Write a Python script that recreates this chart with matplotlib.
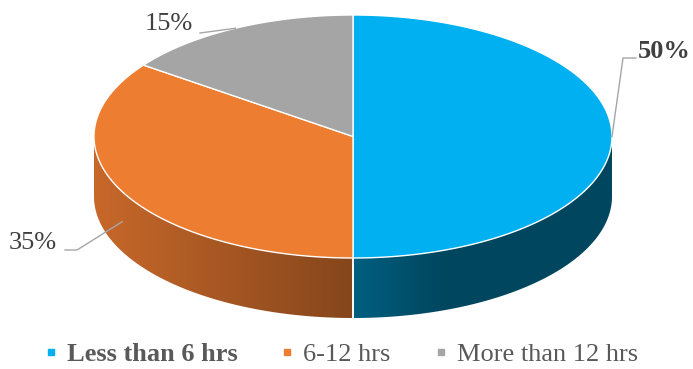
import numpy as np
import matplotlib.pyplot as plt
from matplotlib.patches import Polygon
from matplotlib.lines import Line2D
from matplotlib.colors import to_rgb

# sleep-hours survey shares (percent)
labels = ["Less than 6 hrs", "6-12 hrs", "More than 12 hrs"]
shares = [50, 35, 15]
pct_labels = ["50%", "35%", "15%"]

top_colors = ["#00B0F0", "#ED7D31", "#A5A5A5"]
side_start = ["#005F80", "#C8682A", "#7F7F7F"]
side_end = ["#00465F", "#85461C", "#5F5F5F"]
ramp = [0.35, 1.0, 1.0]   # part of the wall width over which the shading changes

plt.rcParams["font.family"] = ["Liberation Serif", "DejaVu Serif"]

fig = plt.figure(figsize=(6.93, 3.69), dpi=100)
ax = fig.add_axes([0, 0, 1, 1])

# pie geometry in pixel units
cx, cy, a, b, depth = 353, 136.5, 259, 121.5, 60


def rim(t_deg, drop=0.0):
    t = np.radians(t_deg)
    return cx + a * np.cos(t), cy - b * np.sin(t) + drop


fracs = np.array(shares, dtype=float) / sum(shares)
ends = 90 - 360 * np.cumsum(fracs)
starts = np.concatenate([[90], ends[:-1]])

# side walls (only the front half of the rim is visible), shaded left to right
for i in range(len(shares)):
    lo, hi = max(ends[i], -180), min(starts[i], 0)
    if lo >= hi:
        continue
    ts = np.linspace(hi, lo, 200)
    top = [rim(t) for t in ts]
    bot = [rim(t, depth) for t in ts[::-1]]
    wall = Polygon(top + bot, closed=True, facecolor="none", edgecolor="none")
    ax.add_patch(wall)
    xs = np.array([p[0] for p in top])
    x0, x1 = xs.min(), xs.max()
    ys = [p[1] for p in top + bot]
    f = np.clip(np.linspace(0, 1, 300) / ramp[i], 0, 1)
    c1, c2 = np.array(to_rgb(side_start[i])), np.array(to_rgb(side_end[i]))
    grad = (c1 + (c2 - c1) * f[:, None])[None, :, :]
    im = ax.imshow(grad, extent=(x0, x1, max(ys), min(ys)), aspect="auto",
                   interpolation="bilinear", zorder=1)
    im.set_clip_path(wall)
    # white seam where two walls meet
    for t in (lo, hi):
        if t in (-180, 0):
            continue
        p, q = rim(t), rim(t, depth)
        ax.plot([p[0], q[0]], [p[1], q[1]], color="white", lw=1.2, zorder=2)

# top face wedges
for i in range(len(shares)):
    ts = np.linspace(starts[i], ends[i], 200)
    pts = [(cx, cy)] + [rim(t) for t in ts]
    ax.add_patch(Polygon(pts, closed=True, facecolor=top_colors[i],
                         edgecolor="white", linewidth=1.0, zorder=3))

# data labels with leader lines
label_pos = [(638, 58, "left", "bold"), (57, 249, "right", "normal"),
             (193, 30, "right", "normal")]
elbows = [[(636, 58), (623, 58)], [(65, 250), (77, 250)], [(200, 33)]]
for i in range(len(shares)):
    mid = (starts[i] + ends[i]) / 2
    drop = depth / 2 if np.sin(np.radians(mid)) < -1e-6 else 0
    tip = rim(mid, drop)
    path = elbows[i] + [tip]
    ax.plot([p[0] for p in path], [p[1] for p in path], color="#A6A6A6",
            lw=1.0, zorder=4)
    x, y, ha, w = label_pos[i]
    ax.text(x, y, pct_labels[i], ha=ha, va="baseline", fontsize=19,
            fontweight=w, color="#404040", zorder=5)

# legend
handles = [Line2D([], [], linestyle="none", marker="s", markersize=5,
                  markerfacecolor=c, markeredgecolor=c) for c in top_colors]
leg = ax.legend(handles, labels, loc="lower center", bbox_to_anchor=(0.492, -0.02),
                ncol=3, frameon=False, fontsize=19, handlelength=0.5,
                handletextpad=0.35, columnspacing=1.65, borderaxespad=0)
for txt in leg.get_texts():
    txt.set_color("#595959")
leg.get_texts()[0].set_fontweight("bold")

ax.set_xlim(0, 693)
ax.set_ylim(369, 0)
ax.axis("off")

fig.savefig("out.png", dpi=100)
